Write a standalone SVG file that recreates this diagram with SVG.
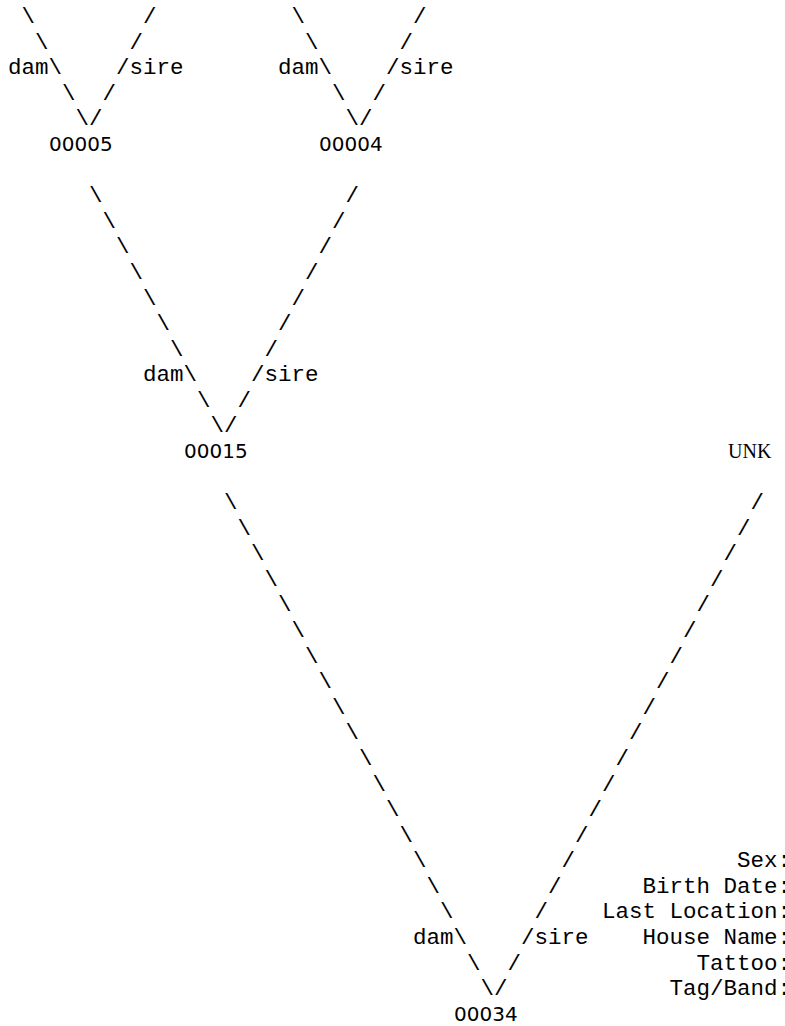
<svg xmlns="http://www.w3.org/2000/svg" width="785" height="1026" viewBox="0 0 785 1026">
<style>
.m{font-family:"Liberation Mono","Courier New",monospace;font-size:22.5px;fill:#000;}
.id{font-family:"DejaVu Sans","Liberation Sans",sans-serif;font-size:20px;fill:#000;}
.unk{font-family:"Liberation Serif","Times New Roman",serif;font-size:20px;fill:#000;}
</style>
<rect width="785" height="1026" fill="#fff"/>
<g id="connectors" class="m">
<!-- tree 00005 -->
<text x="21.5" y="23.1">\</text><text x="143" y="23.1">/</text>
<text x="35" y="48.7">\</text><text x="129.5" y="48.7">/</text>
<text x="8" y="74.3">dam\</text><text x="116" y="74.3">/sire</text>
<text x="62" y="99.8">\</text><text x="102.5" y="99.8">/</text>
<text x="75.5" y="125.4">\/</text>
<!-- tree 00004 -->
<text x="291.5" y="23.1">\</text><text x="413" y="23.1">/</text>
<text x="305" y="48.7">\</text><text x="399.5" y="48.7">/</text>
<text x="278" y="74.3">dam\</text><text x="386" y="74.3">/sire</text>
<text x="332" y="99.8">\</text><text x="372.5" y="99.8">/</text>
<text x="345.5" y="125.4">\/</text>
<!-- tree 00015 -->
<text x="89" y="202.2">\</text><text x="345.5" y="202.2">/</text>
<text x="102.5" y="227.7">\</text><text x="332" y="227.7">/</text>
<text x="116" y="253.3">\</text><text x="318.5" y="253.3">/</text>
<text x="129.5" y="278.9">\</text><text x="305" y="278.9">/</text>
<text x="143" y="304.5">\</text><text x="291.5" y="304.5">/</text>
<text x="156.5" y="330.1">\</text><text x="278" y="330.1">/</text>
<text x="170" y="355.6">\</text><text x="264.5" y="355.6">/</text>
<text x="143" y="381.2">dam\</text><text x="251" y="381.2">/sire</text>
<text x="197" y="406.8">\</text><text x="237.5" y="406.8">/</text>
<text x="210.5" y="432.4">\/</text>
<!-- tree 00034 -->
<text x="224" y="509.1">\</text><text x="750.5" y="509.1">/</text>
<text x="237.5" y="534.7">\</text><text x="737" y="534.7">/</text>
<text x="251" y="560.3">\</text><text x="723.5" y="560.3">/</text>
<text x="264.5" y="585.9">\</text><text x="710" y="585.9">/</text>
<text x="278" y="611.4">\</text><text x="696.5" y="611.4">/</text>
<text x="291.5" y="637">\</text><text x="683" y="637">/</text>
<text x="305" y="662.6">\</text><text x="669.5" y="662.6">/</text>
<text x="318.5" y="688.2">\</text><text x="656" y="688.2">/</text>
<text x="332" y="713.8">\</text><text x="642.5" y="713.8">/</text>
<text x="345.5" y="739.3">\</text><text x="629" y="739.3">/</text>
<text x="359" y="764.9">\</text><text x="615.5" y="764.9">/</text>
<text x="372.5" y="790.5">\</text><text x="602" y="790.5">/</text>
<text x="386" y="816.1">\</text><text x="588.5" y="816.1">/</text>
<text x="399.5" y="841.7">\</text><text x="575" y="841.7">/</text>
<text x="413" y="867.2">\</text><text x="561.5" y="867.2">/</text>
<text x="426.5" y="892.8">\</text><text x="548" y="892.8">/</text>
<text x="440" y="918.4">\</text><text x="534.5" y="918.4">/</text>
<text x="413" y="944">dam\</text><text x="521" y="944">/sire</text>
<text x="467" y="969.6">\</text><text x="507.5" y="969.6">/</text>
<text x="480.5" y="995.1">\/</text>
</g>
<g id="node-00005"><text class="id" x="49" y="151">00005</text></g>
<g id="node-00004"><text class="id" x="319" y="151">00004</text></g>
<g id="node-00015"><text class="id" x="184" y="458">00015</text></g>
<g id="node-UNK"><text class="unk" x="728" y="458">UNK</text></g>
<g id="node-00034"><text class="id" x="454" y="1020.7">00034</text></g>
<g id="legend" class="m">
<text x="737" y="867.2">Sex:</text>
<text x="642.5" y="892.8">Birth Date:</text>
<text x="602" y="918.4">Last Location:</text>
<text x="642.5" y="944">House Name:</text>
<text x="696.5" y="969.6">Tattoo:</text>
<text x="669.5" y="995.1">Tag/Band:</text>
</g>
</svg>
